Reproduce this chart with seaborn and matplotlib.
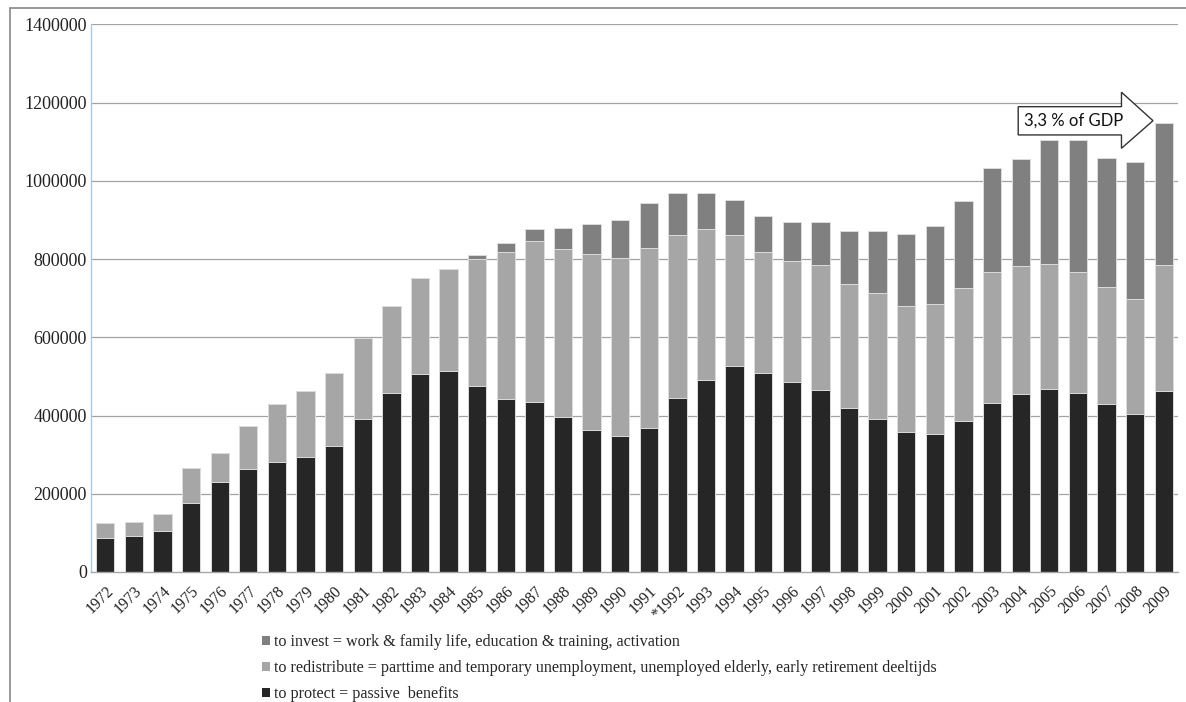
import numpy as np
import pandas as pd
import matplotlib
matplotlib.use("Agg")
import matplotlib.pyplot as plt
from matplotlib.patches import Patch, Polygon
from matplotlib.lines import Line2D
from matplotlib.ticker import FuncFormatter
import seaborn as sns

years = ["1972", "1973", "1974", "1975", "1976", "1977", "1978", "1979", "1980", "1981",
         "1982", "1983", "1984", "1985", "1986", "1987", "1988", "1989", "1990", "1991",
         "*1992", "1993", "1994", "1995", "1996", "1997", "1998", "1999", "2000", "2001",
         "2002", "2003", "2004", "2005", "2006", "2007", "2008", "2009"]

protect = [87000, 91000, 104700, 177000, 229000, 263000, 281700, 294500, 321900, 390300,
           456900, 505800, 512600, 476400, 442200, 433400, 397200, 363000, 348300, 368800,
           444100, 491100, 525300, 507700, 486200, 465700, 418700, 390300, 358100, 353200,
           386400, 431400, 453900, 468600, 458800, 428500, 404000, 463700]

redistribute = [37200, 37000, 43000, 90000, 74000, 109700, 147800, 167300, 186800, 208400,
                222100, 244600, 261200, 324800, 376600, 411800, 428500, 449000, 453900, 458800,
                416800, 385500, 335600, 311100, 309200, 317900, 318000, 321900, 322800, 331600,
                338500, 334600, 327800, 318000, 307200, 299300, 294500, 320900]

invest = [0, 0, 0, 0, 0, 0, 0, 0, 0, 0,
          0, 0, 0, 8800, 21500, 32300, 54800, 77300, 96800, 114500,
          108600, 92900, 91000, 90000, 99700, 111500, 134000, 160400, 182000, 198600,
          223100, 266100, 272900, 316900, 339500, 331700, 349300, 363900]

labels = ["to invest = work & family life, education & training, activation",
          "to redistribute = parttime and temporary unemployment, unemployed elderly, early retirement deeltijds",
          "to protect = passive  benefits"]
annotation = "3,3 % of GDP"

c_protect = "#262626"
c_redis = "#a6a6a6"
c_invest = "#808080"

df = pd.DataFrame({"year": years, "protect": protect,
                   "redistribute": redistribute, "invest": invest})
df["lvl2"] = df["protect"] + df["redistribute"]
df["lvl3"] = df["lvl2"] + df["invest"]

sns.set_theme(style="white")
plt.rcParams["font.family"] = ["Liberation Serif", "DejaVu Serif"]

fig = plt.figure(figsize=(11.86, 7.02), dpi=100)
W, H = 1186, 702
ax = fig.add_axes([91 / W, 1 - 572 / H, (1178 - 91) / W, (572 - 24.3) / H])

for ytick in range(200000, 1400001, 200000):
    ax.axhline(ytick, color="#a3a3a3", lw=0.9, zorder=0)

bar_kw = dict(width=0.64, saturation=1, edgecolor="#dcdcdc", linewidth=0.7, ax=ax, zorder=2)
sns.barplot(data=df, x="year", y="lvl3", color=c_invest, order=years, **bar_kw)
sns.barplot(data=df, x="year", y="lvl2", color=c_redis, order=years, **bar_kw)
sns.barplot(data=df, x="year", y="protect", color=c_protect, order=years, **bar_kw)

ax.set_ylim(0, 1400000)
ax.set_xlim(-0.5, len(years) - 0.5)
ax.set_yticks(range(0, 1400001, 200000))
ax.yaxis.set_major_formatter(FuncFormatter(lambda v, p: f"{int(v)}"))
ax.set_xlabel("")
ax.set_ylabel("")
ax.tick_params(axis="y", length=0, pad=3, labelsize=13, colors="#222222")
ax.tick_params(axis="x", length=0, pad=8, labelsize=11.5, colors="#222222")
plt.setp(ax.get_xticklabels(), rotation=45, ha="right", rotation_mode="anchor")

for s in ["top", "right"]:
    ax.spines[s].set_visible(False)
ax.spines["left"].set_color("#a9c8e6")
ax.spines["left"].set_linewidth(1.0)
ax.spines["bottom"].set_color("#a6a6a6")
ax.spines["bottom"].set_linewidth(1.0)

# block arrow annotation
pts = [(0.853, 0.8496), (0.948, 0.8496), (0.948, 0.876), (0.977, 0.824),
       (0.948, 0.7736), (0.948, 0.798), (0.853, 0.798)]
ax.add_patch(Polygon(pts, closed=True, transform=ax.transAxes, facecolor="white",
                     edgecolor="#333333", lw=1.0, zorder=5, clip_on=False))
ax.text(0.904, 0.824, annotation, transform=ax.transAxes, ha="center", va="center",
        fontsize=12, family=["Lato", "DejaVu Sans"], color="#111111", zorder=6)

# legend
handles = [Patch(facecolor=c_invest, edgecolor="none"),
           Patch(facecolor=c_redis, edgecolor="none"),
           Patch(facecolor=c_protect, edgecolor="none")]
fig.legend(handles, labels, loc="upper left", bbox_to_anchor=(262 / W, 1 - 634 / H),
           frameon=False, fontsize=11.6, handlelength=0.48, handleheight=0.48,
           handletextpad=0.25, labelspacing=0.62, borderaxespad=0, borderpad=0)

# outer frame
fig.add_artist(Line2D([10 / W, 10 / W], [0, 1 - 8 / H], color="#888888", lw=1.2))
fig.add_artist(Line2D([10 / W, 1], [1 - 8 / H, 1 - 8 / H], color="#888888", lw=1.2))

fig.savefig("out.png", dpi=100)
